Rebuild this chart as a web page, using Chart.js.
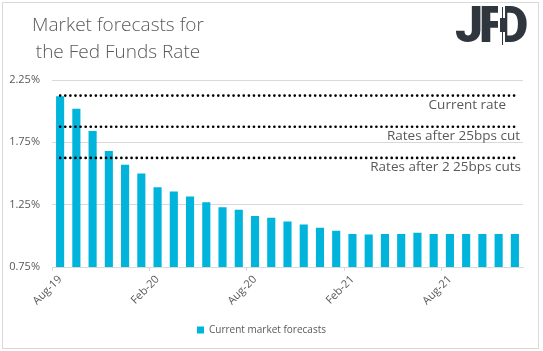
<!DOCTYPE html>
<html>
<head>
<meta charset="utf-8">
<script src="https://cdn.jsdelivr.net/npm/chart.js@4.4.1/dist/chart.umd.min.js"></script>
<style>
  html, body { margin: 0; padding: 0; background: #fff; }
  #wrap { position: relative; width: 543px; height: 351px; overflow: hidden; }
  #c { position: absolute; left: 0; top: 0; }
  .frame { position: absolute; left: 2px; top: 2px; width: 535px; height: 345px; border: 1px solid #d9d9d9; }
  .title { position: absolute; left: 0; top: 11px; width: 236px; text-align: center;
           font-family: "Open Sans", sans-serif; font-weight: 300; font-size: 19px; line-height: 27px; color: #595959; }
  .logo { position: absolute; top: 0; font-family: Roboto, sans-serif; font-weight: 900;
          font-size: 50px; line-height: 50px; color: #30363e; }
  .cut { position: absolute; background: #fff; }
  .candle { position: absolute; background: #30363e; }
</style>
</head>
<body>
<div id="wrap">
  <div class="frame"></div>
  <canvas id="c" width="543" height="351"></canvas>
  <div class="title">Market forecasts for<br>the Fed Funds Rate</div>
  <span class="logo" style="left:455px">J</span>
  <span class="logo" style="left:479px">F</span>
  <span class="logo" style="left:496px">D</span>
  <div class="cut" style="left:498px; top:6px; width:7px; height:40px"></div>
  <div class="candle" style="left:502px; top:7px; width:1px; height:38px"></div>
  <div class="candle" style="left:500px; top:18px; width:5px; height:14px"></div>
</div>
<script>
// Prévisions de marché pour le taux des Fed Funds.
const months = [
  'Aug-19', 'Sep-19', 'Oct-19', 'Nov-19', 'Dec-19',
  'Jan-20', 'Feb-20', 'Mar-20', 'Apr-20', 'May-20', 'Jun-20', 'Jul-20',
  'Aug-20', 'Sep-20', 'Oct-20', 'Nov-20', 'Dec-20',
  'Jan-21', 'Feb-21', 'Mar-21', 'Apr-21', 'May-21', 'Jun-21', 'Jul-21',
  'Aug-21', 'Sep-21', 'Oct-21', 'Nov-21', 'Dec-21'
];
const forecasts = [
  2.12, 2.02, 1.84, 1.68, 1.57,
  1.50, 1.39, 1.355, 1.315, 1.27, 1.23, 1.21,
  1.16, 1.145, 1.115, 1.09, 1.065,
  1.04, 1.015, 1.01, 1.015, 1.015, 1.025, 1.015,
  1.015, 1.015, 1.015, 1.015, 1.015
];
const refRates = [2.125, 1.875, 1.625];
const refLabels = ['Current rate', 'Rates after 25bps cut', 'Rates after 2 25bps cuts'];
const yTicks = [0.75, 1.25, 1.75, 2.25];
const labelEvery = 6;

const GRIS = '#595959';
const GRILLE = '#d9d9d9';
const CYAN = '#00b4dc';

// Libellés des lignes de référence, sous chaque ligne pointillée.
const refLabelPlugin = {
  id: 'refLabels',
  afterDatasetsDraw(chart, args, opts) {
    const { ctx, chartArea, scales: { y } } = chart;
    ctx.save();
    ctx.font = '13.5px "Open Sans", sans-serif';
    ctx.fillStyle = GRIS;
    ctx.textAlign = 'right';
    ctx.textBaseline = 'middle';
    refLabels.forEach((t, i) => {
      ctx.fillText(t, chartArea.right - opts.insets[i], y.getPixelForValue(refRates[i]) + opts.dy);
    });
    ctx.restore();
  },
};

const lineSets = refRates.map((r, i) => ({
  type: 'line',
  label: refLabels[i],
  data: months.map(() => r),
  borderColor: '#000',
  borderWidth: 2.6,
  borderDash: [0.1, 5],
  borderCapStyle: 'round',
  pointRadius: 0,
  fill: false,
  order: 0,
}));

new Chart(document.getElementById('c'), {
  type: 'bar',
  data: {
    labels: months,
    datasets: [
      ...lineSets,
      {
        type: 'bar',
        label: 'Current market forecasts',
        data: forecasts,
        backgroundColor: CYAN,
        borderWidth: 0,
        barPercentage: 0.5,
        categoryPercentage: 1,
        order: 1,
      },
    ],
  },
  plugins: [refLabelPlugin],
  options: {
    responsive: false,
    animation: false,
    devicePixelRatio: 1,
    layout: { padding: { top: 80, right: 20, bottom: 6, left: 0 } },
    scales: {
      x: {
        offset: true,
        grid: {
          offset: true,
          drawOnChartArea: false,
          tickLength: 4,
          color: (c) => (c.index % labelEvery === 0 ? GRILLE : 'rgba(0,0,0,0)'),
        },
        border: { color: GRILLE },
        ticks: {
          autoSkip: false,
          minRotation: 45,
          maxRotation: 45,
          padding: 2,
          color: GRIS,
          font: { family: '"Open Sans", sans-serif', size: 11 },
          callback: (v, i) => (i % labelEvery === 0 ? months[i] : ''),
        },
        afterFit: (s) => { s.height = 48; },
      },
      y: {
        min: 0.75,
        max: 2.25,
        afterBuildTicks: (s) => { s.ticks = yTicks.map((v) => ({ value: v })); },
        grid: { color: GRILLE, drawTicks: false },
        border: { display: false },
        ticks: {
          padding: 12,
          color: GRIS,
          font: { family: '"Open Sans", sans-serif', size: 11 },
          callback: (v) => Number(v).toFixed(2) + '%',
        },
        afterFit: (s) => { s.width = 52; },
      },
    },
    plugins: {
      refLabels: { insets: [17, 3, 2], dy: 9.5 },
      tooltip: { enabled: false },
      legend: {
        position: 'bottom',
        labels: {
          filter: (item) => item.datasetIndex === refRates.length,
          color: GRIS,
          font: { family: '"Open Sans", sans-serif', size: 10 },
          boxWidth: 7,
          boxHeight: 7,
          padding: 10,
        },
      },
    },
  },
});
</script>
</body>
</html>
